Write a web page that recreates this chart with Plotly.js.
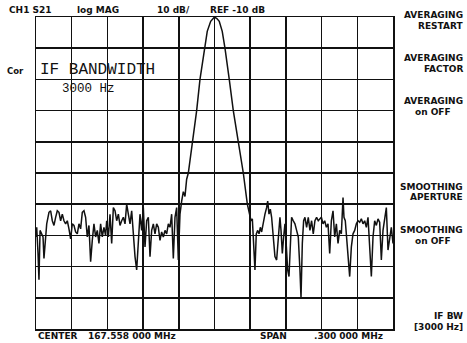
<!DOCTYPE html>
<html><head><meta charset="utf-8">
<script src="https://cdn.plot.ly/plotly-3.0.1.min.js"></script>
<style>html,body{margin:0;padding:0;background:#fff}#chart{width:467px;height:343px}</style>
</head><body><div id="chart"></div>
<script>
// Frequency offset from start (167.408 MHz), kHz; span 300 kHz
const freqKHz = [0,0.6,1.7,2.5,3.4,4.5,5.9,6.7,7.8,9.0,10.9,12.3,13.7,15.1,16.5,17.9,19.3,20.7,22.1,23.5,24.9,26.3,27.7,29.1,30.5,31.9,33.3,34.7,36.1,37.5,38.9,40.3,41.7,43.1,44.5,45.9,47.3,48.7,50.1,51.5,52.9,54.3,55.7,57.1,58.5,59.4,60.8,62.2,63.6,65.0,66.4,67.8,69.2,70.6,72.0,73.4,74.8,76.2,77.6,79.0,80.4,81.8,83.2,84.6,86.0,87.4,88.8,90.2,91.6,93.0,94.4,95.8,97.2,98.6,100.0,101.4,102.8,104.2,105.6,107.0,108.4,109.8,111.2,112.6,114.0,115.4,116.8,118.2,119.6,121.0,122.4,123.8,125.2,126.6,128.0,131.7,135.0,137.8,141.4,143.9,146.8,148.5,150.0,152.0,154.0,156.5,158.8,162.4,165.8,170.0,174.2,177.6,179.2,180.7,181.8,182.9,184.0,185.1,186.3,187.4,188.5,189.6,191.0,192.4,193.8,194.7,195.8,196.9,198.0,199.4,200.8,202.2,203.6,205.0,205.9,207.0,208.1,209.2,210.4,211.5,212.6,213.7,214.8,216.2,217.6,219.0,220.4,221.8,222.7,223.8,224.9,226.0,227.4,228.8,230.2,231.6,233.0,234.4,235.8,237.2,239.8,241.2,242.6,244.0,245.4,246.8,248.2,249.6,251.0,252.4,253.8,255.2,256.6,258.0,258.8,259.9,261.0,262.2,263.6,265.0,266.4,267.8,269.2,270.6,272.0,273.4,274.8,276.2,277.6,279.0,280.4,281.8,283.2,284.6,286.0,287.4,288.8,290.2,291.6,293.0,294.4,295.8,297.2,298.6,300.0];
const levelDB = [-80.5,-77.4,-85.8,-94.2,-78.4,-79.5,-80.5,-87.4,-80.5,-76.3,-72.6,-72.1,-75.3,-76.8,-74.2,-72.1,-72.6,-75.3,-73.2,-75.3,-76.3,-75.3,-77.9,-81.1,-76.3,-76.8,-78.9,-79.5,-76.3,-77.9,-72.6,-72.1,-74.2,-80.5,-76.8,-88.4,-81.6,-76.3,-80.5,-78.4,-82.6,-76.3,-80.5,-77.4,-80.0,-75.3,-80.5,-73.2,-82.6,-71.1,-72.1,-75.3,-73.2,-76.8,-75.3,-74.2,-76.3,-70.0,-73.2,-76.3,-72.1,-80.5,-86.8,-91.1,-80.5,-73.2,-78.4,-71.1,-83.7,-75.3,-74.2,-86.8,-78.4,-76.3,-79.5,-76.3,-77.4,-81.6,-78.9,-80.5,-78.4,-79.5,-76.3,-77.4,-73.2,-87.4,-74.2,-71.1,-87.9,-73.2,-69.0,-66.0,-67.5,-62.0,-60.0,-50,-40,-30,-20,-14.6,-11.4,-10.6,-10,-10.5,-11.4,-14.6,-20,-30,-40,-50,-60,-70,-73.2,-75.3,-74.7,-84.7,-91.1,-79.5,-78.4,-79.5,-77.4,-78.9,-75.3,-73.2,-71.1,-69.0,-73.2,-71.6,-74.2,-79.5,-86.8,-87.9,-81.6,-74.2,-78.4,-85.8,-80.5,-76.3,-83.7,-91.1,-93.2,-80.5,-74.2,-75.3,-76.3,-78.4,-80.5,-91.1,-100,-82.6,-75.3,-74.2,-77.4,-74.2,-78.4,-75.3,-79.5,-75.3,-74.2,-75.3,-74.2,-76.3,-75.3,-77.4,-76.3,-85.8,-75.3,-72.1,-80.5,-76.3,-82.6,-78.4,-79.5,-67.9,-74.2,-75.3,-80.5,-85.8,-93.2,-83.7,-79.5,-78.4,-76.3,-75.3,-75.8,-74.7,-76.3,-75.3,-77.4,-74.2,-83.7,-93.2,-80.5,-75.3,-76.8,-74.7,-75.8,-87.9,-78.4,-75.3,-71.1,-84.7,-80.5,-77.4,-82.6];

const headerLabels = ['CH1 S21','log MAG','10 dB/','REF -10 dB'];
const footerLabels = ['CENTER','167.558 000 MHz','SPAN','.300 000 MHz'];
const softkeys = [['AVERAGING','RESTART'],['AVERAGING','FACTOR'],['AVERAGING','on OFF'],['',''],['SMOOTHING','APERTURE'],['SMOOTHING','on OFF'],['',''],['IF BW','[3000 Hz]']];
const sideLabel = 'Cor';
const boxTitle = 'IF BANDWIDTH';
const boxValue = '3000 Hz';

const L=36,R=393,T=17,B=329;
function ann(text,xp,yp,font,xanchor){
  return {text:text,xref:'paper',yref:'paper',x:(xp-L)/(R-L),y:(B-yp)/(B-T),
    xanchor:xanchor||'left',yanchor:'middle',showarrow:false,font:font};
}
const small={family:'DejaVu Sans',size:9,color:'#111',weight:'bold'};
const anns=[];
const hx=[7,75,155,208];
headerLabels.forEach((t,i)=>anns.push(ann(t,hx[i],10,small)));
const fx=[36,86,258,312];
footerLabels.forEach((t,i)=>anns.push(ann(t,fx[i],336,small)));
softkeys.forEach((k,i)=>{
  const y0=15+i*43;
  k.forEach((t,j)=>{
    if(!t) return;
    if(t==='on OFF') anns.push(ann(t,413,y0+j*10.5,small,'left'));
    else anns.push(ann(t,465,y0+j*10.5,small,'right'));
  });
});
anns.push(ann(sideLabel,5,71,{family:'DejaVu Sans',size:8.5,color:'#111',weight:'bold'}));
anns.push(ann(boxTitle,38,70,{family:'Liberation Mono',size:16,color:'#111'}));
anns.push(ann(boxValue,60,89,{family:'Liberation Mono',size:12.5,color:'#111'}));

const ax={showgrid:true,gridcolor:'#111',gridwidth:1.5,showticklabels:false,ticks:'',
  zeroline:false,showline:true,mirror:true,linecolor:'#111',linewidth:1.5,fixedrange:true};
Plotly.newPlot('chart',[{x:freqKHz,y:levelDB,type:'scatter',mode:'lines',
  line:{color:'#111',width:1.5},hoverinfo:'skip'}],{
  width:467,height:343,margin:{l:L,r:467-R,t:T,b:343-B},
  paper_bgcolor:'#fff',plot_bgcolor:'#fff',showlegend:false,
  xaxis:Object.assign({range:[0,300],dtick:30,tick0:0},ax),
  yaxis:Object.assign({range:[-110,-10],dtick:10,tick0:-10},ax),
  annotations:anns
},{staticPlot:true,displayModeBar:false});
</script></body></html>
